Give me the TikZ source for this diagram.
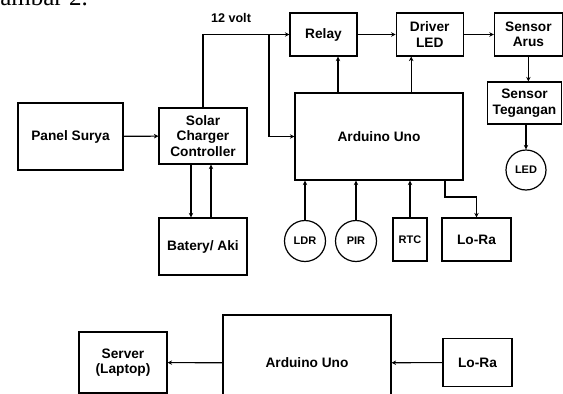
\documentclass[tikz,border=0pt]{standalone}
\usepackage{fontspec}
\setmainfont{Liberation Sans}
\newfontfamily\captionserif{Liberation Serif}
\usetikzlibrary{arrows.meta,positioning,calc}

\begin{document}
\begin{tikzpicture}[
  x=1pt, y=-1pt,
  >={Stealth[length=4.5pt,width=4.5pt]},
  node distance=30pt and 30pt,
  every node/.style={text=black, align=center, font=\fontsize{13.7}{15.5}\selectfont\bfseries},
  block/.style={draw, line width=1.2pt, inner sep=0pt},
  smalltext/.style={font=\fontsize{11}{13}\selectfont\bfseries},
  sensorcirc/.style={circle, draw, line width=1.2pt, minimum size=41pt, inner sep=0pt, smalltext},
  wire/.style={->, line width=1.1pt, draw=black}
]
\useasboundingbox (0,0) rectangle (563,394);

% ---- caption (cut off) ----
\node[anchor=base east, inner sep=0pt, font=\captionserif\fontsize{25}{25}\selectfont] (caption) at (88,5) {ambar 2.};

% ---- power side ----
\node (panel) [block, minimum width=105pt, minimum height=67pt] at (70.5,136.5) {Panel Surya};
\node (scc) [block, minimum width=88pt, minimum height=56pt] at (203,136) {Solar\\Charger\\Controller};
\node (battery) [block, minimum width=88pt, minimum height=57pt] at (203,246.5) {Batery/ Aki};
\node (volt) [font=\fontsize{12.6}{14}\selectfont\bfseries] at (231,18) {12 volt};

% ---- output chain (top) ----
\node (relay) [block, minimum width=67pt, minimum height=43pt] at (323.5,34.5) {Relay};
\node (driver) [block, minimum width=67pt, minimum height=43pt, right=38pt of relay] {Driver\\LED};
\node (arus) [block, minimum width=68pt, minimum height=43pt, right=30pt of driver] {Sensor\\Arus};
\node (tegangan) [block, minimum width=74pt, minimum height=42pt] at (524.5,103) {Sensor\\Tegangan};
\node (led) [sensorcirc, minimum size=40pt] at (526,170) {LED};

% ---- controller and inputs ----
\node (arduino) [block, minimum width=168pt, minimum height=87pt] at (379,136.5) {Arduino Uno};
\node (ldr) [sensorcirc] at (305,241) {LDR};
\node (pir) [sensorcirc] at (356,241) {PIR};
\node (rtc) [block, smalltext, minimum width=34pt, minimum height=43pt] at (410,239.5) {RTC};
\node (lora) [block, minimum width=69pt, minimum height=43pt] at (476.5,239.5) {Lo-Ra};

% ---- receiver side (bottom) ----
\node (server) [block, minimum width=88pt, minimum height=61pt] at (123,362.5) {Server\\(Laptop)};
\node (arduinorx) [block, minimum width=168pt, minimum height=96pt] at (307,363) {Arduino Uno};
\node (lorarx) [block, minimum width=69pt, minimum height=48pt] at (477.5,362.5) {Lo-Ra};

% ---- helper points ----
\coordinate (vsplit) at (269,34.5);
\coordinate (lorabend) at (445,197);

% ---- edges: power ----
\draw[wire] (panel) -- (scc);
\draw[wire] (scc.north) |- (relay.west);
\draw[wire] (vsplit) |- (arduino.west);
\draw[wire] ([xshift=-12pt]scc.south) -- ([xshift=-12pt]battery.north);
\draw[wire] ([xshift=8pt]battery.north) -- ([xshift=8pt]scc.south);

% ---- edges: output chain ----
\draw[wire] (relay) -- (driver);
\draw[wire] (driver) -- (arus);
\draw[wire] (arus) -- (arus |- tegangan.north);
\draw[wire] (tegangan.south -| led) -- (led);
\draw[wire] ([xshift=14.5pt]relay.south |- arduino.north) -- ([xshift=14.5pt]relay.south);
\draw[wire] ([xshift=-18.5pt]driver.south |- arduino.north) -- ([xshift=-18.5pt]driver.south);

% ---- edges: inputs ----
\draw[wire] (ldr) -- (ldr |- arduino.south);
\draw[wire] (pir) -- (pir |- arduino.south);
\draw[wire] (rtc) -- (rtc |- arduino.south);
\draw[wire] (arduino.south -| lorabend) -- (lorabend) -| (lora.north);

% ---- edges: receiver ----
\draw[wire] (arduinorx) -- (server);
\draw[wire] (lorarx) -- (arduinorx);

\end{tikzpicture}
\end{document}
